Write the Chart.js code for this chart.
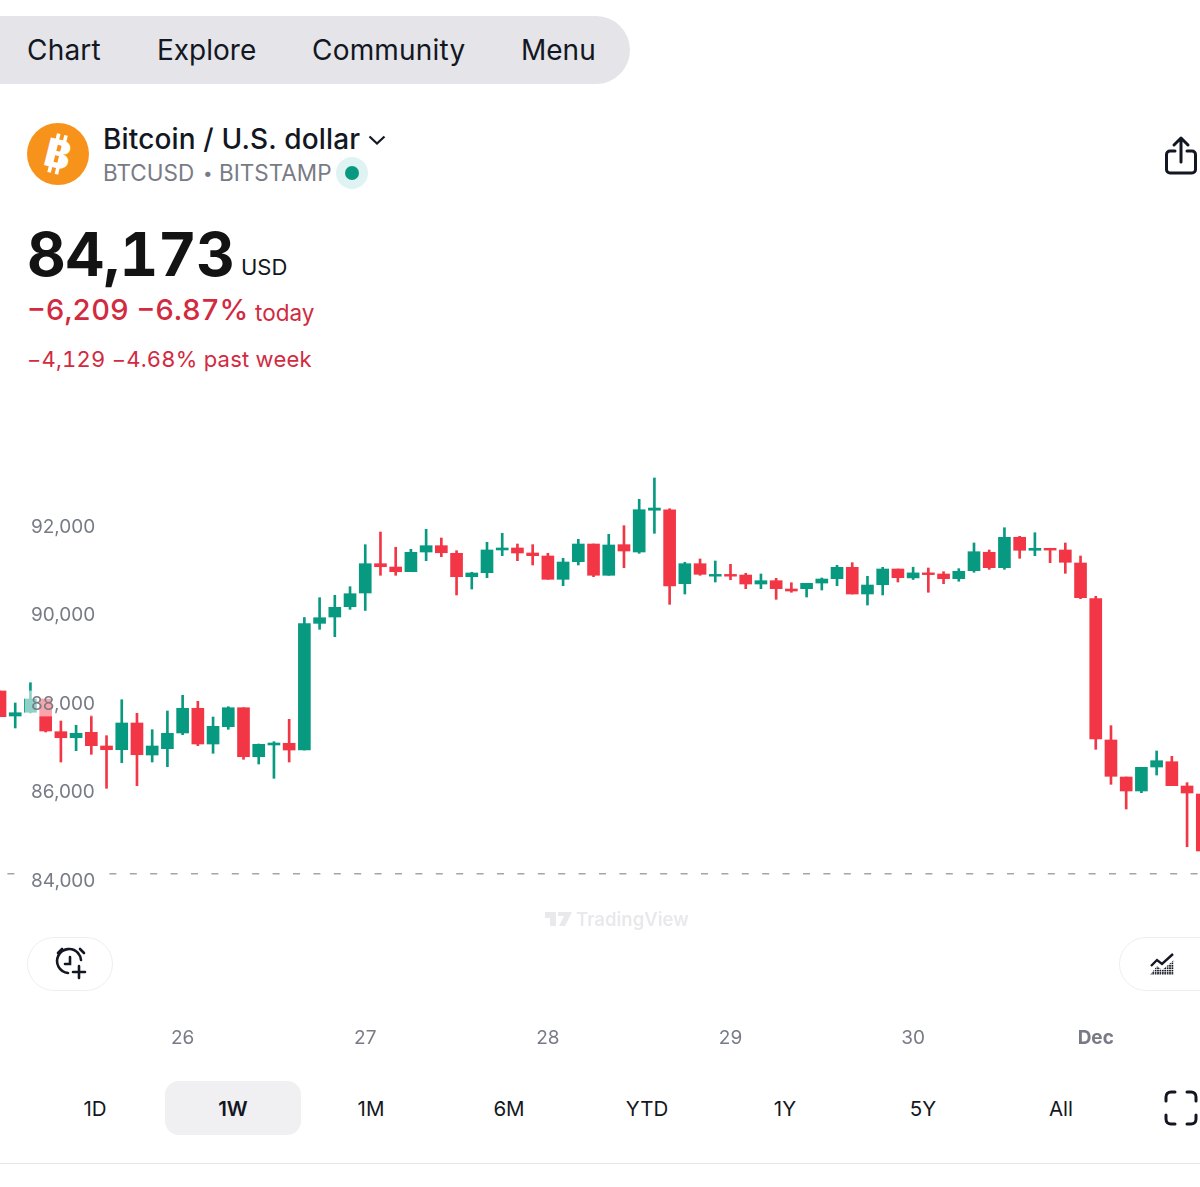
<!DOCTYPE html>
<html>
<head>
<meta charset="utf-8">
<title>BTCUSD</title>
<script src="https://cdn.jsdelivr.net/npm/chart.js@4"></script>
<style>
html, body { margin: 0; padding: 0; background: #fff; }
body { width: 1200px; height: 1187px; position: relative; overflow: hidden; font-family: Inter, "Noto Sans", sans-serif; color: #131722; }
.t { position: absolute; white-space: nowrap; line-height: 1; transform: translateY(-50%); }
.c { transform: translate(-50%, -50%); }
.num { font-variant-numeric: tabular-nums; }
.red { color: #d22a3f; }
.grey { color: #787b86; }
#nav { position: absolute; left: -40px; top: 16px; width: 670px; height: 68px; background: #e4e4e9; border-radius: 34px; }
#sel { position: absolute; left: 165px; top: 1081px; width: 136px; height: 54px; background: #f0f0f2; border-radius: 14px; }
#rule { position: absolute; left: 0; top: 1163px; width: 1200px; height: 1px; background: #e6e6ea; }
.btn { position: absolute; top: 937px; height: 52px; border: 1px solid #eeeef0; border-radius: 27px; background: #fff; }
canvas { position: absolute; left: 0; top: 440px; }
svg { position: absolute; overflow: visible; }
</style>
</head>
<body>
<div id="nav"></div>
<div class="t" style="left:27px;top:50px;font-size:28px;letter-spacing:.2px">Chart</div>
<div class="t" style="left:157px;top:50px;font-size:28px">Explore</div>
<div class="t" style="left:312px;top:50px;font-size:28px;letter-spacing:.2px">Community</div>
<div class="t" style="left:521px;top:50px;font-size:28px">Menu</div>

<svg style="left:27px;top:123px" width="62" height="62" viewBox="0 0 62 62">
  <circle cx="31" cy="31" r="31" fill="#f7931a"/>
  <g fill="#fff" transform="rotate(14 31 31)">
    <rect x="25" y="11" width="3.600" height="40"/>
    <rect x="32.500" y="11" width="3.600" height="40"/>
    <text x="31" y="45" text-anchor="middle" font-family="Inter" font-weight="800" font-size="39">B</text>
  </g>
</svg>
<div class="t" style="left:103px;top:139px;font-size:28px;font-weight:500;letter-spacing:.15px">Bitcoin / U.S. dollar</div>
<svg style="left:368px;top:135px" width="18" height="10" viewBox="0 0 18 10"><path d="M1.500 1.500 9 8.500l7.500-7" fill="none" stroke="#131722" stroke-width="2.200"/></svg>
<div class="t grey" style="left:103px;top:173px;font-size:22.500px">BTCUSD</div>
<div class="t grey" style="left:203px;top:173px;font-size:17px">•</div>
<div class="t grey" style="left:219px;top:173px;font-size:22.500px">BITSTAMP</div>
<svg style="left:336px;top:157px" width="32" height="32"><circle cx="16" cy="16" r="16" fill="#dff3f3"/><circle cx="16" cy="16" r="7" fill="#089981"/></svg>
<svg style="left:1165px;top:136px" width="32" height="40" viewBox="0 0 32 40" fill="none" stroke="#131722" stroke-width="3" stroke-linecap="round" stroke-linejoin="round">
  <path d="M16 2v24M9 9l7-7 7 7"/>
  <path d="M10 15H5c-2 0-3.500 1.500-3.500 3.500v15c0 2 1.500 3.500 3.500 3.500h22c2 0 3.500-1.500 3.500-3.500v-15c0-2-1.500-3.500-3.500-3.500h-5"/>
</svg>

<div class="t num" style="left:27px;top:254px;font-size:60px;font-weight:700;letter-spacing:-.4px;color:#131313">84,173</div>
<div class="t" style="left:241px;top:267px;font-size:22px">USD</div>
<div class="t red num" style="left:27px;top:309px;font-size:29px;font-weight:500;letter-spacing:0">−6,209 −6.87%</div>
<div class="t red" style="left:255px;top:313px;font-size:22.500px">today</div>
<div class="t red num" style="left:27px;top:359px;font-size:22px;letter-spacing:.22px">−4,129 −4.68% past week</div>

<canvas id="chart" width="1200" height="620"></canvas>

<svg style="left:545px;top:911px" width="28" height="16" viewBox="0 0 28 16" fill="#e9e9ec"><path d="M0 1h11v14H5V7H0zM13 1h14l-7 14h-6l5-10h-6z"/></svg>
<div class="t" style="left:576px;top:919px;font-size:18.500px;font-weight:600;color:#e9e9ec">TradingView</div>

<div class="btn" style="left:27px;width:84px"></div>
<svg style="left:54px;top:946px" width="34" height="34" viewBox="0 0 34 34" fill="none" stroke="#131722" stroke-width="2.600" stroke-linecap="round">
  <path d="M24 7a12 12 0 1 0-10 20"/><path d="M24 7a12 12 0 0 1 3 7"/>
  <path d="M16 11v7h-5"/><path d="M4 7l4-4M30 7l-4-4"/><path d="M25 20v12M19 26h12"/>
</svg>
<div class="btn" style="left:1119px;width:110px"></div>
<svg style="left:1150px;top:953px" width="25" height="23" viewBox="0 0 25 23">
  <defs><pattern id="dots" width="2.400" height="2.400" patternUnits="userSpaceOnUse"><rect width="1.700" height="1.700" fill="#131722"/></pattern></defs>
  <path d="M1 13l6-6 5 4 11-10" fill="none" stroke="#131722" stroke-width="2.400"/>
  <path d="M0 22l7-9 5 4 12-10v15z" fill="url(#dots)"/>
</svg>

<div id="sel"></div>
<div class="t c" style="left:95px;top:1109px;font-size:20.500px">1D</div>
<div class="t c" style="left:233px;top:1109px;font-size:20.500px;font-weight:600">1W</div>
<div class="t c" style="left:371px;top:1109px;font-size:20.500px">1M</div>
<div class="t c" style="left:509px;top:1109px;font-size:20.500px">6M</div>
<div class="t c" style="left:647px;top:1109px;font-size:20.500px">YTD</div>
<div class="t c" style="left:785px;top:1109px;font-size:20.500px">1Y</div>
<div class="t c" style="left:923px;top:1109px;font-size:20.500px">5Y</div>
<div class="t c" style="left:1061px;top:1109px;font-size:20.500px">All</div>
<svg style="left:1164px;top:1090px" width="34" height="36" viewBox="0 0 34 36" fill="none" stroke="#131722" stroke-width="3" stroke-linecap="round">
  <path d="M2 11V7c0-3 2-5 5-5h4M23 2h4c3 0 5 2 5 5v4M32 25v4c0 3-2 5-5 5h-4M11 34H7c-3 0-5-2-5-5v-4"/>
</svg>
<div id="rule"></div>

<script>
// 2-hour candles
const opens = [88305, 87740, 87824, 88124, 87385, 87249, 87371, 87062, 86978, 87582,
    86858, 87001, 87356, 87914, 87107, 87498, 87927, 86820, 87085, 87123,
    86971, 89834, 89977, 90210, 90520, 91182, 91107, 91001, 91446, 91589,
    91417, 90888, 90979, 91492, 91537, 91424, 91356, 90829, 91227, 91627,
    90920, 91612, 91446, 92390, 92402, 90730, 91182, 90900, 90940, 90926,
    90723, 90798, 90610, 90617, 90745, 90843, 91100, 90497, 90707, 91062,
    90861, 90975, 90949, 90843, 91024, 91440, 91092, 91779, 91485, 91530,
    91492, 91198, 90391, 87198, 86361, 86045, 86587, 86707, 86158, 85977];
const highs = [88305, 88034, 88492, 88124, 87627, 87530, 87747, 87295, 88108, 87801,
    87430, 87853, 88208, 88072, 87717, 87950, 87927, 87107, 87159, 87665,
    89966, 90414, 90468, 90662, 91612, 91898, 91553, 91507, 91959, 91763,
    91476, 90988, 91666, 91869, 91627, 91612, 91417, 91304, 91733, 91627,
    91846, 92041, 92637, 93119, 92425, 91214, 91288, 91243, 91168, 90965,
    90949, 90852, 90752, 90739, 90859, 91146, 91205, 90897, 91100, 91062,
    91102, 91085, 91001, 91069, 91650, 91492, 91995, 91801, 91882, 91530,
    91650, 91356, 90445, 87521, 86361, 86580, 86949, 86829, 86233, 85977];
const lows = [87724, 87469, 87808, 87378, 86700, 86956, 86874, 86106, 86684, 86165,
    86700, 86594, 87317, 87069, 86897, 87439, 86761, 86655, 86332, 86700,
    86971, 89699, 89532, 90150, 90125, 90920, 90920, 91001, 91250, 91340,
    90475, 90610, 90866, 91363, 91250, 91153, 90829, 90685, 91153, 90888,
    90920, 91092, 91417, 91869, 90264, 90497, 90920, 90768, 90820, 90617,
    90617, 90377, 90536, 90429, 90587, 90685, 90497, 90248, 90475, 90768,
    90825, 90536, 90730, 90785, 90988, 91055, 91055, 91304, 91363, 91205,
    90965, 90391, 86987, 86196, 85638, 86007, 86406, 86165, 84786, 84689];
const closes = [87724, 87814, 88124, 87401, 87249, 87349, 87069, 86978, 87582, 86865,
    87062, 87349, 87914, 87107, 87507, 87927, 86820, 87100, 87130, 86971,
    89830, 89961, 90196, 90504, 91182, 91114, 91001, 91440, 91589, 91430,
    90888, 90972, 91492, 91537, 91424, 91363, 90829, 91220, 91627, 90920,
    91605, 91469, 92402, 92440, 90678, 91182, 90942, 90940, 90900, 90723,
    90798, 90617, 90565, 90739, 90836, 91100, 90497, 90700, 91062, 90866,
    90974, 90935, 90843, 91010, 91453, 91092, 91779, 91485, 91530, 91490,
    91214, 90414, 87220, 86377, 86045, 86580, 86730, 86165, 86000, 84689];

const lastPrice = 84173;
const yTicks = [84000, 86000, 88000, 90000, 92000];
const xTicks = [12, 24, 36, 48, 60, 72];
const xTickLabels = ['26', '27', '28', '29', '30', 'Dec'];

const green = '#089981';
const red = '#f23645';
const candleColor = ctx => closes[ctx.dataIndex] >= opens[ctx.dataIndex] ? green : red;

new Chart(document.getElementById('chart').getContext('2d'), {
    type: 'bar',
    data: {
        datasets: [
            {
                label: 'wick',
                data: lows.map((low, i) => ({ x: i, y: [low, highs[i]] })),
                backgroundColor: candleColor,
                barThickness: 2,
                grouped: false,
                order: 3
            },
            {
                label: 'body',
                data: opens.map((open, i) => ({ x: i, y: [open, closes[i]] })),
                backgroundColor: candleColor,
                barThickness: 12,
                grouped: false,
                order: 2
            },
            {
                type: 'line',
                label: 'last',
                data: [{ x: 0, y: lastPrice }, { x: 79, y: lastPrice }],
                borderColor: '#a3a5ac',
                borderWidth: 1.5,
                borderDash: [7, 13.4],
                borderDashOffset: 13,
                pointRadius: 0,
                order: 1
            }
        ]
    },
    options: {
        responsive: false,
        animation: false,
        events: [],
        layout: { padding: 0 },
        plugins: { legend: { display: false }, tooltip: { enabled: false } },
        scales: {
            x: {
                type: 'linear',
                min: 0,
                max: 78.85,
                offset: false,
                grid: { display: false },
                border: { display: false },
                afterBuildTicks: s => { s.ticks = xTicks.map(v => ({ value: v })); },
                afterFit: s => { s.height = 50; },
                ticks: {
                    autoSkip: false,
                    maxRotation: 0,
                    padding: 9,
                    color: '#787b86',
                    font: ctx => ({ family: 'Inter', size: 19, weight: ctx.tick && ctx.tick.value === 72 ? '700' : '400' }),
                    callback: v => xTickLabels[xTicks.indexOf(v)]
                }
            },
            y: {
                min: 81095.5,
                max: 93977.5,
                grid: { display: false },
                border: { display: false },
                afterBuildTicks: s => { s.ticks = yTicks.map(v => ({ value: v })); },
                afterFit: s => { s.width = 0; s.paddingTop = 0; s.paddingBottom = 0; },
                ticks: {
                    mirror: true,
                    padding: 31,
                    labelOffset: -0.5,
                    z: 1,
                    color: '#787b86',
                    font: { family: 'Inter', size: 19 },
                    showLabelBackdrop: true,
                    backdropColor: ctx => ctx.tick && ctx.tick.value === 84000 ? '#fff' : 'rgba(255,255,255,0.55)',
                    backdropPadding: { left: 6, right: 6, top: 2, bottom: 1 },
                    callback: v => v.toLocaleString('en-US')
                }
            }
        }
    }
});
</script>
</body>
</html>
